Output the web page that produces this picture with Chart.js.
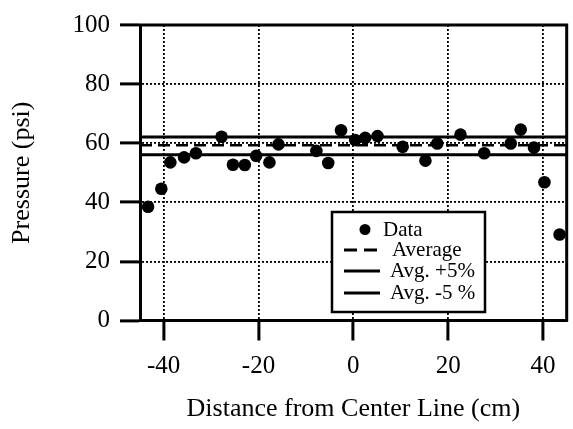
<!DOCTYPE html>
<html><head><meta charset="utf-8">
<script src="https://cdn.jsdelivr.net/npm/chart.js@4.4.0/dist/chart.umd.min.js"></script>
<style>html,body{margin:0;padding:0;background:#fff;}</style>
</head><body>
<canvas id="c" width="573" height="429" style="display:block;width:573px;height:429px"></canvas>
<script>
const distances = [-43.3,-40.5,-38.6,-35.7,-33.2,-27.8,-25.4,-22.9,-20.5,-17.7,-15.8,-7.8,-5.3,-2.6,0.4,2.5,5.1,10.4,15.2,17.7,22.6,27.6,33.2,35.3,38.1,40.3,43.5];
const pressures = [38.5,44.6,53.5,55.2,56.6,62.2,52.7,52.6,55.7,53.5,59.6,57.4,53.3,64.4,61.1,61.8,62.4,58.8,54.1,59.9,62.9,56.6,59.9,64.6,58.5,46.8,29.1];
const xRange = [-45, 45];
const yRange = [0, 100];
const xTicks = [-40, -20, 0, 20, 40];
const yTicks = [0, 20, 40, 60, 80, 100];
const averageValue = 59.3;
const plus5Value = 62.1;
const minus5Value = 56.1;
const legendLabels = ['Data', 'Average', 'Avg. +5%', 'Avg. -5 %'];
const xTitle = 'Distance from Center Line (cm)';
const yTitle = 'Pressure (psi)';

const FONT = 'Liberation Serif, Times New Roman, serif';

const framePlugin = {
  id: 'frameLegend',
  afterDatasetsDraw(chart) {
    const {ctx, chartArea: a} = chart;
    ctx.save();
    ctx.strokeStyle = '#000';
    ctx.lineWidth = 3;
    ctx.setLineDash([]);
    ctx.beginPath();
    ctx.moveTo(a.left - 1, a.top);
    ctx.lineTo(a.right, a.top);
    ctx.lineTo(a.right, a.bottom + 1);
    ctx.stroke();

    // legend box
    const bx = 332, by = 212, bw = 153, bh = 100;
    ctx.fillStyle = '#fff';
    ctx.fillRect(bx, by, bw, bh);
    ctx.lineWidth = 2.5;
    ctx.strokeRect(bx, by, bw, bh);

    ctx.fillStyle = '#000';
    ctx.font = '21px ' + FONT;
    ctx.textBaseline = 'alphabetic';
    ctx.textAlign = 'left';
    const baselines = [235.5, 256, 277, 299];
    const textX = [383, 392, 390, 390];
    const symY = [229.5, 250, 271, 293];
    // Data dot
    ctx.beginPath();
    ctx.arc(365, symY[0], 5.5, 0, Math.PI * 2);
    ctx.fill();
    // dashed
    ctx.lineWidth = 3;
    ctx.setLineDash([13, 7]);
    ctx.beginPath();
    ctx.moveTo(344, symY[1]); ctx.lineTo(378, symY[1]);
    ctx.stroke();
    ctx.setLineDash([]);
    ctx.beginPath();
    ctx.moveTo(344, symY[2]); ctx.lineTo(380, symY[2]);
    ctx.moveTo(344, symY[3]); ctx.lineTo(380, symY[3]);
    ctx.stroke();
    legendLabels.forEach((t, i) => ctx.fillText(t, textX[i], baselines[i]));
    ctx.restore();
  }
};

const hline = (label, v, dash, w) => ({
  label, type: 'line',
  data: xRange.map(x => ({x, y: v})),
  borderColor: '#000', borderWidth: w, borderDash: dash,
  pointRadius: 0, fill: false, showLine: true
});

new Chart(document.getElementById('c'), {
  type: 'scatter',
  data: {
    datasets: [
      { label: legendLabels[0],
        data: distances.map((x, i) => ({x, y: pressures[i]})),
        backgroundColor: '#000', borderColor: '#000', pointRadius: 6.3, borderWidth: 0 },
      hline(legendLabels[1], averageValue, [12, 6], 2.5),
      hline(legendLabels[2], plus5Value, [], 3),
      hline(legendLabels[3], minus5Value, [], 3)
    ]
  },
  options: {
    responsive: false, animation: false, devicePixelRatio: 1,
    layout: { padding: { top: 20, right: 4, left: 0, bottom: 0 } },
    plugins: { legend: { display: false }, tooltip: { enabled: false } },
    scales: {
      x: {
        type: 'linear', min: xRange[0], max: xRange[1],
        afterBuildTicks: s => { s.ticks = xTicks.map(v => ({value: v})); },
        afterFit: s => { s.height = 108.5; },
        grid: { color: '#000', lineWidth: 1.8, tickLength: 20, tickWidth: 3, tickColor: '#000', tickBorderDash: [] },
        border: { display: true, color: '#000', width: 3, dash: [2, 2] },
        ticks: { color: '#000', font: { family: FONT, size: 25 }, padding: 11, maxRotation: 0, autoSkip: false },
        title: { display: true, text: xTitle, color: '#000', font: { family: FONT, size: 26 }, padding: { top: 0, bottom: 4 } }
      },
      y: {
        type: 'linear', min: yRange[0], max: yRange[1],
        afterBuildTicks: s => { s.ticks = yTicks.map(v => ({value: v})); },
        afterFit: s => { s.width = 140; },
        grid: { color: '#000', lineWidth: 1.8, tickLength: 20, tickWidth: 3, tickColor: '#000', tickBorderDash: [] },
        border: { display: true, color: '#000', width: 3, dash: [2, 2] },
        ticks: { color: '#000', font: { family: FONT, size: 25 }, padding: 10, autoSkip: false },
        title: { display: true, text: yTitle, color: '#000', font: { family: FONT, size: 26 }, padding: { top: 7, bottom: 0 } }
      }
    }
  },
  plugins: [framePlugin]
});
</script>
</body></html>
